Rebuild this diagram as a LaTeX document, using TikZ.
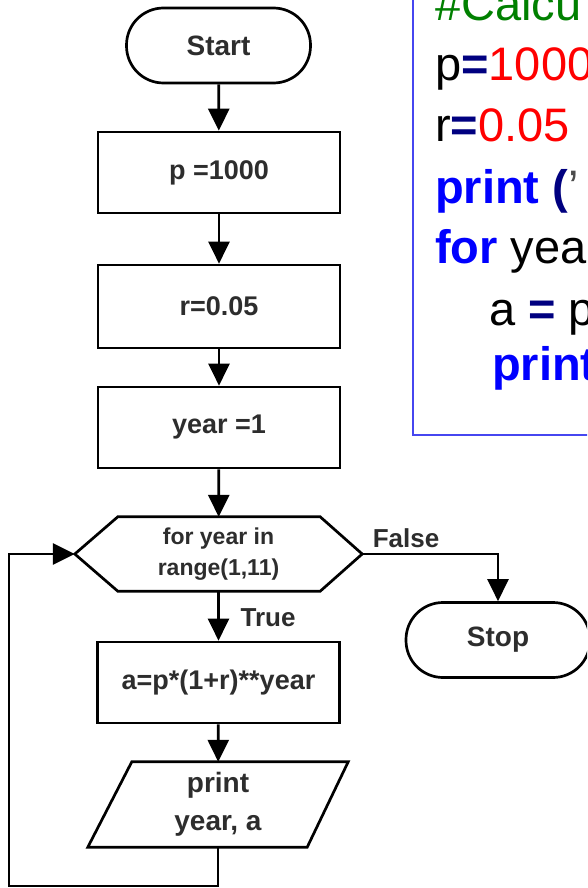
\documentclass[tikz,border=0pt]{standalone}
\usepackage{fontspec}
\setmainfont{Liberation Sans}
\usetikzlibrary{arrows.meta}
\definecolor{codeblue}{RGB}{0,0,255}
\definecolor{codenavy}{RGB}{0,0,128}
\definecolor{codegreen}{RGB}{0,128,0}
\definecolor{codered}{RGB}{255,0,0}
\definecolor{boxborder}{RGB}{70,70,240}
\definecolor{flowtext}{RGB}{45,45,45}
\begin{document}
\begin{tikzpicture}[x=1pt,y=-1pt,
  flowline/.style={line width=2.7pt, draw=black},
  arr/.style={flowline, -{Triangle[length=22pt,width=21pt]}},
  procbox/.style={draw=black, line width=2.7pt, fill=white, minimum width=242pt, minimum height=81pt, inner sep=0pt, text=flowtext, font=\fontsize{27}{32}\selectfont\bfseries},
  termbox/.style={procbox, rounded corners=37pt, minimum width=184pt, minimum height=75pt, font=\fontsize{28}{32}\selectfont\bfseries},
  ghost/.style={inner sep=0pt, text=flowtext, align=center},
  lbl/.style={text=flowtext, font=\fontsize{26}{30}\selectfont\bfseries, inner sep=0pt},
  code/.style={anchor=base west, inner sep=0pt, font=\fontsize{47}{56}\selectfont}
]
\useasboundingbox (0,0) rectangle (587,888);
\clip (0,0) rectangle (587,888);
\fill[white] (0,0) rectangle (587,888);

% code box
\draw[boxborder, line width=2pt] (413,-10) -- (413,435) -- (600,435);
\node[code, text=codegreen] (c1) at (435,21) {\#Calcu};
\node[code] (c2) at (435,81) {p\textcolor{codenavy}{\bfseries=}\textcolor{codered}{1000}};
\node[code] (c3) at (435,142) {r\textcolor{codenavy}{\bfseries=}\textcolor{codered}{0.05}};
\node[code] (c4) at (435,203) {\textcolor{codeblue}{\bfseries print} \textcolor{codenavy}{\bfseries(}\textcolor{black!70}{'}};
\node[code] (c5) at (435,263) {\textcolor{codeblue}{\bfseries for} yea};
\node[code] (c6) at (489,325) {a \textcolor{codenavy}{\bfseries=} p};
\node[code] (c7) at (492,380) {\textcolor{codeblue}{\bfseries print}};

% flowchart nodes
\node[termbox] (start) at (218.5,45.5) {Start};
\node[procbox] (p) at (219,172.5) {p =1000};
\node[procbox, minimum height=83pt] (r) at (219,306.5) {r=0.05};
\node[procbox] (year) at (219,427.5) {year =1};
\node[ghost, minimum width=287pt, minimum height=74pt] (hex) at (218.5,554) {};
\draw[flowline, fill=white] (hex.west) -- ([xshift=43pt]hex.north west) -- ([xshift=-42pt]hex.north east) -- (hex.east) -- ([xshift=-42pt]hex.south east) -- ([xshift=43pt]hex.south west) -- cycle;
\node[ghost, font=\fontsize{23}{31}\selectfont\bfseries] (hextext) at (hex.center) {for year in\\range(1,11)};
\node[procbox] (a) at (218.5,682.5) {a=p*(1+r)**year};
\node[ghost, minimum width=260pt, minimum height=85pt] (para) at (218,804.5) {};
\draw[flowline, fill=white] (para.south west) -- ([xshift=44pt]para.north west) -- (para.north east) -- ([xshift=-41pt]para.south east) -- cycle;
\node[ghost, font=\fontsize{28}{38}\selectfont\bfseries] (paratext) at (para.center) {print\\year, a};
\node[termbox] (stop) at (498,640) {Stop};

% connectors
\draw[arr] (start) -- (p);
\draw[arr] (p) -- (r);
\draw[arr] (r) -- (year);
\draw[arr] (year) -- (hex);
\draw[arr] (hex) -- (a);
\draw[arr] (a) -- (para);
\draw[arr] (hex.east) -| (stop.north);
\coordinate (lb) at (218,886);
\coordinate (ll) at (9,886);
\coordinate (lt) at (9,554);
\draw[arr] (para.south) -- (lb) -- (ll) -- (lt) -- (hex.west);

% labels
\node[lbl] (lfalse) at (406,538) {False};
\node[lbl] (ltrue) at (268,618) {True};
\end{tikzpicture}
\end{document}
